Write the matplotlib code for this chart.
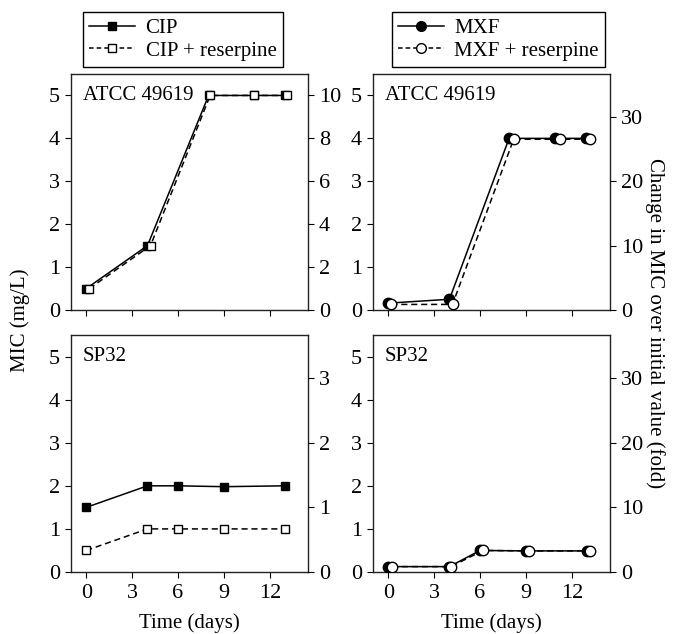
import matplotlib
matplotlib.use("Agg")
import matplotlib.pyplot as plt
from matplotlib.lines import Line2D

plt.rcParams.update({
    "font.family": "Liberation Serif",
    "font.size": 15,
    "axes.linewidth": 1.0,
    "axes.edgecolor": "#222222",
    "xtick.direction": "out", "ytick.direction": "out",
    "xtick.major.size": 4, "ytick.major.size": 4,
    "xtick.major.pad": 5, "ytick.major.pad": 4,
    "xtick.labelsize": 16, "ytick.labelsize": 16,
})

# ---- data ----
# ATCC 49619, ciprofloxacin
cip_atcc_days = [0, 4, 8, 11, 13]
cip_atcc = [0.5, 1.5, 5.0, 5.0, 5.0]
cipr_atcc_days = [0.2, 4.2, 8.1, 11.0, 13.1]
cipr_atcc = [0.5, 1.5, 5.0, 5.0, 5.0]

# ATCC 49619, moxifloxacin
mxf_atcc_days = [0, 4, 7.9, 10.9, 12.9]
mxf_atcc = [0.16, 0.25, 4.0, 4.0, 4.0]
mxfr_atcc_days = [0.2, 4.2, 8.2, 11.2, 13.2]
mxfr_atcc = [0.13, 0.13, 3.98, 3.98, 3.98]

# SP32, ciprofloxacin
cip_sp_days = [0, 4, 6, 9, 13]
cip_sp = [1.5, 2.0, 2.0, 1.98, 2.0]
cipr_sp_days = [0, 4, 6, 9, 13]
cipr_sp = [0.5, 1.0, 1.0, 1.0, 1.0]

# SP32, moxifloxacin
mxf_sp_days = [0, 4, 6, 9, 13]
mxf_sp = [0.125, 0.125, 0.5, 0.49, 0.49]
mxfr_sp_days = [0.25, 4.1, 6.2, 9.2, 13.2]
mxfr_sp = [0.125, 0.125, 0.5, 0.49, 0.49]

# right-axis scaling (fold over initial MIC)
cip_atcc_init = 0.5
cip_sp_init = 1.5
mxf_init = 0.15

x_ticks = [0, 3, 6, 9, 12]
y_ticks = [0, 1, 2, 3, 4, 5]

W, H = 675, 634
fig = plt.figure(figsize=(W / 100, H / 100), dpi=100)


def msize(marker):
    return 7.5 if marker == "o" else 6.0


def add_panel(x0, y0, x1, y1):
    return fig.add_axes([x0 / W, 1 - y1 / H, (x1 - x0) / W, (y1 - y0) / H])


def draw(ax, d1, v1, d2, v2, marker, label, init, rticks, xlabels):
    ax.plot(d1, v1, "-", color="black", lw=1.1, marker=marker, ms=msize(marker),
            mfc="black", mec="black", zorder=3)
    ax.plot(d2, v2, "--", color="black", lw=1.1, dashes=(4, 2.5), marker=marker,
            ms=msize(marker), mfc="white", mec="black", mew=1.0, zorder=4)
    ax.set_xlim(-1, 14.5)
    ax.set_ylim(0, 5.5)
    ax.set_xticks(x_ticks)
    ax.set_yticks(y_ticks)
    if not xlabels:
        ax.set_xticklabels([])
    ax.text(0.05, 0.91, label, transform=ax.transAxes, va="center", ha="left", fontsize=15)
    r = ax.twinx()
    r.set_ylim(0, 5.5 / init)
    r.set_yticks(rticks)
    r.tick_params(axis="y", direction="out", length=4)
    for s in r.spines.values():
        s.set_visible(False)
    return r


ax_tl = add_panel(71, 74, 308, 310)
ax_tr = add_panel(373, 74, 610, 310)
ax_bl = add_panel(71, 335, 308, 572)
ax_br = add_panel(373, 335, 610, 572)

draw(ax_tl, cip_atcc_days, cip_atcc, cipr_atcc_days, cipr_atcc, "s", "ATCC 49619",
     cip_atcc_init, [0, 2, 4, 6, 8, 10], False)
draw(ax_tr, mxf_atcc_days, mxf_atcc, mxfr_atcc_days, mxfr_atcc, "o", "ATCC 49619",
     mxf_init, [0, 10, 20, 30], False)
draw(ax_bl, cip_sp_days, cip_sp, cipr_sp_days, cipr_sp, "s", "SP32",
     cip_sp_init, [0, 1, 2, 3], True)
draw(ax_br, mxf_sp_days, mxf_sp, mxfr_sp_days, mxfr_sp, "o", "SP32",
     mxf_init, [0, 10, 20, 30], True)

for ax in (ax_bl, ax_br):
    ax.set_xlabel("Time (days)", fontsize=15, labelpad=7)

fig.text(20 / W, 1 - 320 / H, "MIC (mg/L)", rotation=90, va="center", ha="center", fontsize=15)
fig.text(655 / W, 1 - 323 / H, "Change in MIC over initial value (fold)", rotation=270,
         va="center", ha="center", fontsize=15)


def legend(anchor, marker, names):
    h1 = Line2D([], [], color="black", lw=1.1, marker=marker, ms=msize(marker) - 0.5,
                mfc="black", mec="black")
    h2 = Line2D([], [], color="black", lw=1.1, ls="--", dashes=(3, 2), marker=marker,
                ms=msize(marker) - 0.5, mfc="white", mec="black")
    fig.legend([h1, h2], names, loc="upper left", bbox_to_anchor=anchor, frameon=True,
               fancybox=False, edgecolor="black", framealpha=1, fontsize=15,
               handlelength=2.2, handletextpad=0.5, borderpad=0.3, labelspacing=0.15,
               borderaxespad=0)


legend((83 / W, 1 - 12 / H), "s", ["CIP", "CIP + reserpine"])
legend((392 / W, 1 - 12 / H), "o", ["MXF", "MXF + reserpine"])

fig.savefig("out.png", dpi=100)
